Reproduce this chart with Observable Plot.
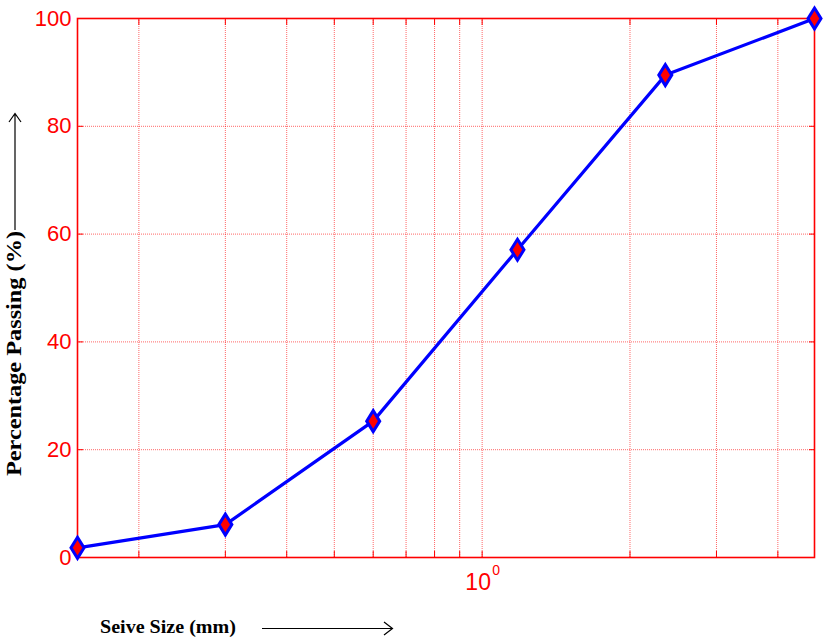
<!DOCTYPE html>
<html>
<head>
<meta charset="utf-8">
<script src="https://cdn.jsdelivr.net/npm/d3@7"></script>
<script src="https://cdn.jsdelivr.net/npm/@observablehq/plot@0.6"></script>
<style>
  html, body { margin: 0; padding: 0; background: #fff; }
  #chart { width: 826px; height: 642px; }
</style>
</head>
<body>
<div id="chart"></div>
<script>
// Data
const sieveSize = [0.15, 0.3, 0.6, 1.18, 2.36, 4.75];
const percentPassing = [1.8, 6.1, 25.3, 57.1, 89.5, 100];
const xGrid = [0.2, 0.3, 0.4, 0.5, 0.6, 0.7, 0.8, 0.9, 1, 2, 3, 4];
const yTicks = [0, 20, 40, 60, 80, 100];
const yGrid = [20, 40, 60, 80];
const xLabelValue = [1];

const data = sieveSize.map((s, i) => ({ size: s, pass: percentPassing[i] }));

const diamond = {
  draw(context, size) {
    const r = Math.sqrt(size / Math.PI);
    const w = r * 0.62;
    context.moveTo(0, -r);
    context.lineTo(w, 0);
    context.lineTo(0, r);
    context.lineTo(-w, 0);
    context.closePath();
  }
};

const RED = "#ff0000";

const plot = Plot.plot({
  width: 826,
  height: 642,
  marginLeft: 77,
  marginRight: 12,
  marginTop: 18,
  marginBottom: 85,
  style: { background: "#fff", overflow: "visible" },
  x: { type: "log", domain: [0.15, 4.75] },
  y: { domain: [0, 100] },
  marks: [
    Plot.gridX(xGrid, { stroke: RED, strokeOpacity: 0.6, strokeDasharray: "1,1", strokeWidth: 1 }),
    Plot.gridY(yGrid, { stroke: RED, strokeOpacity: 0.6, strokeDasharray: "1,1", strokeWidth: 1 }),
    Plot.axisX(xGrid, { anchor: "bottom", tickSize: -6, tickFormat: () => "", stroke: RED, label: null }),
    Plot.axisX(xGrid, { anchor: "top", tickSize: -6, tickFormat: () => "", stroke: RED, label: null }),
    Plot.axisY(yTicks, { anchor: "left", tickSize: -6, tickPadding: 12, stroke: RED, fill: RED,
      fontSize: 22, fontFamily: "Liberation Sans, Arial, sans-serif", label: null, textStroke: "none" }),
    Plot.axisY(yTicks, { anchor: "right", tickSize: -6, tickFormat: () => "", stroke: RED, label: null }),
    Plot.frame({ stroke: RED, strokeWidth: 1.6 }),
    Plot.text(xLabelValue, { x: d => d, frameAnchor: "bottom", dy: 32, dx: -4, text: () => "10",
      fill: RED, fontSize: 23, fontFamily: "Liberation Sans, Arial, sans-serif" }),
    Plot.text(xLabelValue, { x: d => d, frameAnchor: "bottom", dy: 17, dx: 14, text: () => "0",
      fill: RED, fontSize: 14, fontFamily: "Liberation Sans, Arial, sans-serif" }),
    Plot.line(data, { x: "size", y: "pass", stroke: "#0000ff", strokeWidth: 3.2 }),
    Plot.dot(data, { x: "size", y: "pass", symbol: diamond, r: 10.5, fill: RED, stroke: "#0000ff", strokeWidth: 3 })
  ]
});

document.getElementById("chart").appendChild(plot);

const svg = d3.select(plot);
svg.selectAll("[aria-label='y-axis tick label'] text").attr("fill", RED).attr("stroke", "none");

// Axis titles
const titleFont = "'Liberation Serif', 'Times New Roman', serif";
svg.append("text")
  .attr("x", 100).attr("y", 633)
  .attr("text-anchor", "start")
  .attr("font-family", titleFont).attr("font-weight", "bold").attr("font-size", 19)
  .attr("textLength", 136).attr("lengthAdjust", "spacingAndGlyphs")
  .attr("fill", "#000")
  .text("Seive Size (mm)");

svg.append("text")
  .attr("transform", "translate(21,476) rotate(-90)")
  .attr("text-anchor", "start")
  .attr("font-family", titleFont).attr("font-weight", "bold").attr("font-size", 20)
  .attr("textLength", 245).attr("lengthAdjust", "spacingAndGlyphs")
  .attr("fill", "#000")
  .text("Percentage Passing (%)");

// Arrows
const arrows = svg.append("g").attr("stroke", "#000").attr("stroke-width", 1.2).attr("fill", "none");
arrows.append("path").attr("d", "M262,628.5H392.5M384,622L392.5,628.5L384,635");
arrows.append("path").attr("d", "M15,230V113.5M9,122L15,113.5L21,122");
</script>
</body>
</html>
